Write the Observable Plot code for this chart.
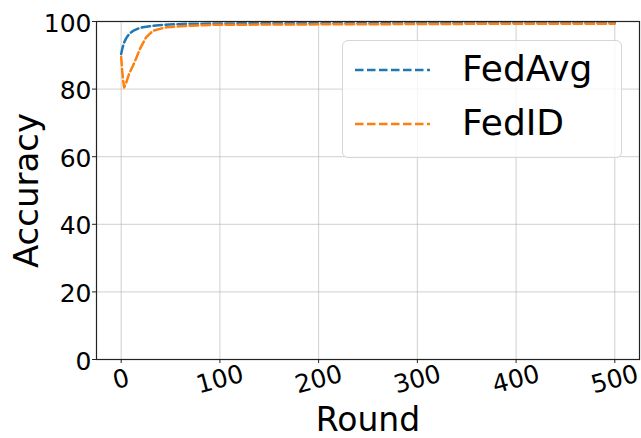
<!DOCTYPE html>
<html>
<head>
<meta charset="utf-8">
<script src="https://cdn.jsdelivr.net/npm/d3@7"></script>
<script src="https://cdn.jsdelivr.net/npm/@observablehq/plot@0.6"></script>
<style>
  body { margin: 0; background: white; }
  #chart { position: relative; width: 641px; height: 438px; font-family: "DejaVu Sans", sans-serif; }
  #legend {
    position: absolute; left: 342px; top: 40px; width: 280px; height: 118px;
    box-sizing: border-box; border: 1px solid #d6d6d6; border-radius: 6px;
    background: rgba(255, 255, 255, 0.8);
  }
</style>
</head>
<body>
<div id="chart"></div>
<script>
// Test accuracy per communication round
const fedAvgRounds = [0, 1, 3, 5, 8, 12, 17, 22, 29, 38, 49, 65, 90, 150, 250, 350, 500];
const fedAvgAcc    = [90.4, 91.8, 93.8, 95.0, 96.3, 97.2, 97.9, 98.3, 98.6, 98.9, 99.1, 99.3, 99.4, 99.5, 99.5, 99.6, 99.6];

const fedIdRounds = [0, 1, 2, 3, 5, 8, 12, 15, 19, 25, 32, 40, 46, 60, 90, 150, 250, 350, 500];
const fedIdAcc    = [89.5, 85.5, 82.5, 80.5, 81.8, 84.5, 87.0, 89.0, 91.9, 95.2, 97.2, 97.9, 98.3, 98.6, 99.0, 99.1, 99.2, 99.3, 99.3];

const seriesNames = ["FedAvg", "FedID"];
const seriesColors = ["#1f77b4", "#ff7f0e"];

const xTicks = [0, 100, 200, 300, 400, 500];
const yTicks = [0, 20, 40, 60, 80, 100];

const fedAvg = fedAvgRounds.map((r, i) => ({round: r, acc: fedAvgAcc[i]}));
const fedId = fedIdRounds.map((r, i) => ({round: r, acc: fedIdAcc[i]}));

const dash = "8.5,3.5";
const font = "DejaVu Sans";

const plot = Plot.plot({
  width: 641,
  height: 438,
  marginLeft: 96,
  marginRight: 2,
  marginTop: 21,
  marginBottom: 79,
  style: {fontFamily: font, background: "white", color: "black"},
  x: {domain: [-25, 525]},
  y: {domain: [0, 100]},
  marks: [
    Plot.gridX(xTicks, {stroke: "#b0b0b0", strokeOpacity: 0.6, strokeWidth: 1}),
    Plot.gridY(yTicks, {stroke: "#b0b0b0", strokeOpacity: 0.6, strokeWidth: 1}),
    Plot.line(fedAvg, {x: "round", y: "acc", stroke: seriesColors[0], strokeWidth: 2.5, strokeDasharray: dash}),
    Plot.line(fedId, {x: "round", y: "acc", stroke: seriesColors[1], strokeWidth: 2.5, strokeDasharray: dash}),
    Plot.frame({stroke: "#222", strokeWidth: 1.2}),
    Plot.axisX(xTicks, {tickSize: 4, tickFormat: () => "", label: null, stroke: "#222"}),
    Plot.axisY(yTicks, {tickSize: 4, tickFormat: () => "", label: null, stroke: "#222"}),
    Plot.text(xTicks, {x: d => d, text: d => String(d), frameAnchor: "bottom", dy: 20, rotate: -15,
      textAnchor: "middle", lineAnchor: "middle", fontSize: 25, fill: "black"}),
    Plot.text(yTicks, {y: d => d, text: d => String(d), frameAnchor: "left", dx: -5, dy: 2,
      textAnchor: "end", lineAnchor: "middle", fontSize: 25, fill: "black"}),
    Plot.text(["Accuracy"], {text: d => d, frameAnchor: "left", dx: -59, rotate: -90,
      textAnchor: "middle", lineAnchor: "bottom", fontSize: 34, fill: "black"}),
    Plot.text(["Round"], {text: d => d, frameAnchor: "bottom", dy: 71,
      textAnchor: "middle", lineAnchor: "bottom", fontSize: 33, fill: "black"})
  ]
});

const chart = document.getElementById("chart");
chart.appendChild(plot);

// Legend box drawn over the plot area
const legend = document.createElement("div");
legend.id = "legend";
const ns = "http://www.w3.org/2000/svg";
const svg = document.createElementNS(ns, "svg");
svg.setAttribute("width", 278);
svg.setAttribute("height", 116);
seriesNames.forEach((name, i) => {
  const y = 29 + i * 54;
  const line = document.createElementNS(ns, "line");
  line.setAttribute("x1", 12);
  line.setAttribute("x2", 87);
  line.setAttribute("y1", y);
  line.setAttribute("y2", y);
  line.setAttribute("stroke", seriesColors[i]);
  line.setAttribute("stroke-width", 2.5);
  line.setAttribute("stroke-dasharray", dash);
  svg.appendChild(line);
  const text = document.createElementNS(ns, "text");
  text.setAttribute("x", 119);
  text.setAttribute("y", y + 11);
  text.setAttribute("font-family", font);
  text.setAttribute("font-size", 36);
  text.setAttribute("fill", "black");
  text.textContent = name;
  svg.appendChild(text);
});
legend.appendChild(svg);
chart.appendChild(legend);
</script>
</body>
</html>
